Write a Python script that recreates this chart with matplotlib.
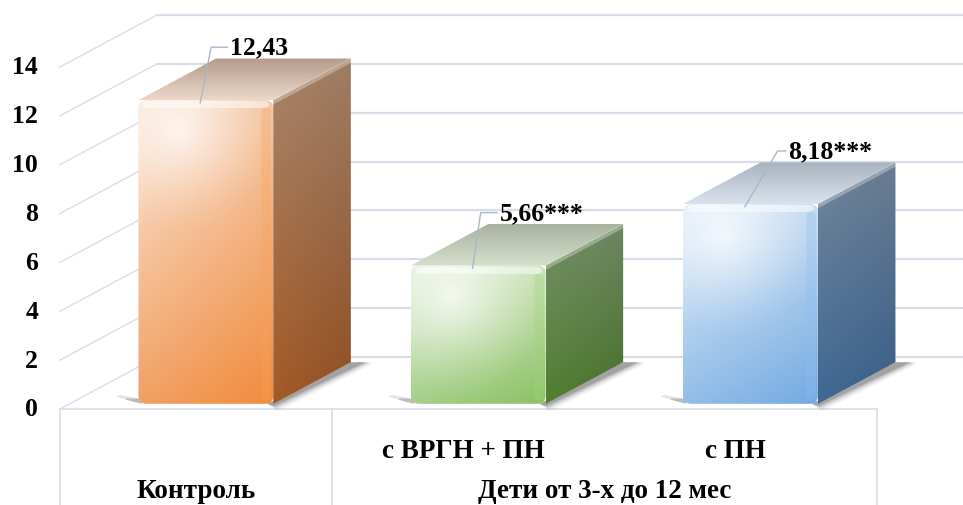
import numpy as np
import matplotlib
matplotlib.use("Agg")
import matplotlib.pyplot as plt
from matplotlib.patches import Polygon, FancyBboxPatch
from matplotlib.colors import to_rgb

# -------------------
# DATA
# -------------------
outer_labels = ['Контроль', 'Дети от 3-х до 12 мес']
inner_labels = ['', 'с ВРГН + ПН', 'с ПН']
values = [12.43, 5.66, 8.18]
value_labels = ['12,43', '5,66***', '8,18***']
y_ticks = [0, 2, 4, 6, 8, 10, 12, 14]

# -------------------
# LAYOUT / STYLE
# -------------------
W_PX, H_PX = 963, 506
X0_PX, CAT_PX = 60, 272.3      # left edge of floor, px per category
Y0_PX, UNIT_PX = 410, 24.43    # y of value 0, px per value unit
DX = 97 / CAT_PX               # depth vector in data units
DY = 52 / UNIT_PX
BAR_W = 0.495
Z0, Z1 = 0.10, 0.90            # bar depth range
GRID_C = '#DADDE8'
FONT = 'Liberation Serif'
FS_TICK = 18.5
FS_LABEL = 18.5
FS_CAT = 19.5

# colours: front (tl, tr, bl, br), side (top-front, top-back, bot-front, bot-back), top (front, back)
BAR_STYLES = [
    dict(front=('#FBE6D8', '#F4C7A6', '#F2A164', '#F18C3E'),
         side=('#A8856B', '#9E7C64', '#A35A27', '#8F4E21'),
         top=('#EBD8CB', '#B59B8A'), edge='#F7A45E'),
    dict(front=('#E4F0DA', '#CCE2BB', '#A6D08A', '#8CC266'),
         side=('#75906A', '#6C8661', '#517F30', '#476F2A'),
         top=('#D6DFCC', '#A9B3A0'), edge='#A3D47C'),
    dict(front=('#E3EEF9', '#C6DCF1', '#93BEE9', '#73AAE2'),
         side=('#72869A', '#687C91', '#406894', '#375D88'),
         top=('#D9E2EC', '#A9B3BE'), edge='#8EC0F0'),
]
LABEL_DX = [0.125, 0.115, 0.175]   # text left offset from category centre
LABEL_DY = 2.38

def px_to_x(px):
    return (px - X0_PX) / CAT_PX

def px_to_y(py):
    return (Y0_PX - py) / UNIT_PX

def proj(x, v, z):
    return (x + z * DX, v + z * DY)

def offs(pt, dx_px, dy_px):
    # shift a data point by screen pixels (dy up)
    return (pt[0] + dx_px / CAT_PX, pt[1] + dy_px / UNIT_PX)

def bilinear(c_tl, c_tr, c_bl, c_br, n=64):
    tl, tr, bl, br = [np.array(to_rgb(c)) for c in (c_tl, c_tr, c_bl, c_br)]
    u = np.linspace(0, 1, n)[None, :, None]
    w = np.linspace(0, 1, n)[:, None, None]
    top = tl * (1 - u) + tr * u
    bot = bl * (1 - u) + br * u
    return top * (1 - w) + bot * w

def grad_fill(ax, patch, extent, colors, z):
    patch.set_facecolor('none')
    patch.set_edgecolor('none')
    ax.add_patch(patch)
    img = bilinear(*colors)
    im = ax.imshow(img, extent=extent, origin='upper', aspect='auto',
                   interpolation='bilinear', zorder=z)
    im.set_clip_path(patch)
    return im

def radial_glow(ax, patch, extent, h_px, z):
    # soft white highlight near the upper-left part of the front face
    n = 80
    w_px = (extent[1] - extent[0]) * CAT_PX
    xs = np.linspace(0, w_px, n)[None, :]
    ys = np.linspace(0, h_px, n)[:, None]
    r = np.hypot(xs - 0.3 * w_px, ys - 30) / 110.0
    a = np.clip(1 - r, 0, 1) ** 1.6 * 0.75
    img = np.ones((n, n, 4))
    img[..., 3] = a
    im = ax.imshow(img, extent=extent, origin='upper', aspect='auto',
                   interpolation='bilinear', zorder=z)
    im.set_clip_path(patch)

fig = plt.figure(figsize=(W_PX / 100, H_PX / 100), dpi=100)
ax = fig.add_axes([0, 0, 1, 1])
xlim = (px_to_x(0), px_to_x(W_PX))
ylim = (px_to_y(H_PX), px_to_y(0))

# -------------------
# WALLS / FLOOR
# -------------------
for t in y_ticks:
    bx, by = proj(0, t, 1)
    ax.plot([0, bx], [t, by], color=GRID_C, lw=1.0, zorder=1)
    ax.plot([bx, xlim[1]], [by, by], color=GRID_C, lw=1.6, zorder=1)
    ax.text(px_to_x(38), t, str(t), ha='right', va='center', fontsize=FS_TICK,
            fontweight='bold', family=FONT, color='black')

n_cat = len(values)
ax.plot([0, n_cat], [0, 0], color=GRID_C, lw=1.2, zorder=1)
for xv in [0, 1, n_cat]:
    ax.plot([xv, xv], [0, ylim[0]], color=GRID_C, lw=1.2, zorder=1)

# category table
for i, lab in enumerate(inner_labels):
    if lab:
        ax.text(i + 0.48, px_to_y(452), lab, ha='center', va='center',
                fontsize=FS_CAT, fontweight='bold', family=FONT)
ax.text(0.5, px_to_y(492), outer_labels[0], ha='center', va='center',
        fontsize=FS_CAT, fontweight='bold', family=FONT)
ax.text((1 + n_cat) / 2, px_to_y(492), outer_labels[1], ha='center', va='center',
        fontsize=FS_CAT, fontweight='bold', family=FONT)

# -------------------
# BARS
# -------------------
ry_px = 8
for i, (v, st) in enumerate(zip(values, BAR_STYLES)):
    c = i + 0.5
    xa, xb = c - BAR_W / 2, c + BAR_W / 2

    # soft shadow along the bottom of the side face
    fb = proj(xb, 0, Z0)
    bb = proj(xb, 0, Z1)
    for k, a in zip([7, 5, 3.5, 2], [0.07, 0.10, 0.14, 0.20]):
        sh = Polygon([offs(fb, -6, 0), bb, offs(bb, 10 + k * 1.5, 0),
                      offs(bb, 10 + k * 1.5, -k * 0.3), offs(fb, k * 0.6, -k)],
                     closed=True, facecolor='#2A2A2A', edgecolor='none',
                     alpha=a, zorder=2)
        ax.add_patch(sh)
    # small shadow wedge at the front-left foot
    fl = proj(xa, 0, Z0)
    for k, a in zip([1.0, 0.6], [0.12, 0.22]):
        sh = Polygon([offs(fl, 3, 0), offs(fl, -22 * k, 7 * k), offs(fl, -19 * k, 9 * k),
                      offs(fl, 3, 5)],
                     closed=True, facecolor='#2A2A2A', edgecolor='none',
                     alpha=a, zorder=2)
        ax.add_patch(sh)

    # side face
    p1 = proj(xb, 0, Z0)
    p2 = proj(xb, 0, Z1)
    p3 = proj(xb, v, Z1)
    p4 = proj(xb, v, Z0)
    side = Polygon([p1, p2, p3, p4], closed=True)
    grad_fill(ax, side, [p1[0], p2[0], p1[1], p3[1]],
              (st['side'][0], st['side'][1], st['side'][2], st['side'][3]), 3)

    # top face
    t1 = proj(xa, v, Z0)
    t2 = proj(xb, v, Z0)
    t3 = proj(xb, v, Z1)
    t4 = proj(xa, v, Z1)
    top = Polygon([t1, t2, t3, t4], closed=True)
    grad_fill(ax, top, [t1[0], t3[0], t1[1], t3[1]],
              (st['top'][1], st['top'][1], st['top'][0], st['top'][0]), 3)

    # front face (rounded)
    f0 = proj(xa, 0, Z0)
    f1 = proj(xb, v, Z0)
    rx = ry_px / CAT_PX
    front = FancyBboxPatch((f0[0], f0[1]), f1[0] - f0[0], f1[1] - f0[1],
                           boxstyle=f"round,pad=0,rounding_size={rx}",
                           mutation_aspect=CAT_PX / UNIT_PX)
    ext = [f0[0], f1[0], f0[1], f1[1]]
    grad_fill(ax, front, ext, st['front'], 4)
    radial_glow(ax, front, ext, (f1[1] - f0[1]) * UNIT_PX, 4.5)

    # bevel highlights
    ax.plot([f0[0] + rx, f1[0] - rx], [f1[1] - 4 / UNIT_PX] * 2, color='white',
            lw=5, alpha=0.5, solid_capstyle='round', zorder=5)
    ax.plot([f1[0] - 7 / CAT_PX] * 2, [f0[1] + 0.3, f1[1] - 0.5], color=st['edge'],
            lw=7, alpha=0.3, solid_capstyle='round', zorder=5)
    ax.plot([t2[0], t3[0]], [t2[1] - 2 / UNIT_PX, t3[1] - 2 / UNIT_PX], color='white',
            lw=3, alpha=0.3, solid_capstyle='round', zorder=5)

    # data label with leader line
    lx = c + LABEL_DX[i]
    ly = v + LABEL_DY
    ax.plot([c + 0.015, lx - 0.07 + (0.03 if i == 2 else 0), lx - 0.01],
            [v + 0.1, ly, ly], color='#A9B7CA', lw=1.0, zorder=6)
    ax.text(lx, ly, value_labels[i], ha='left', va='center', fontsize=FS_LABEL,
            fontweight='bold', family=FONT, color='black', zorder=7)

ax.set_xlim(*xlim)
ax.set_ylim(*ylim)
ax.axis('off')

fig.savefig('out.png', dpi=100, facecolor='white')
